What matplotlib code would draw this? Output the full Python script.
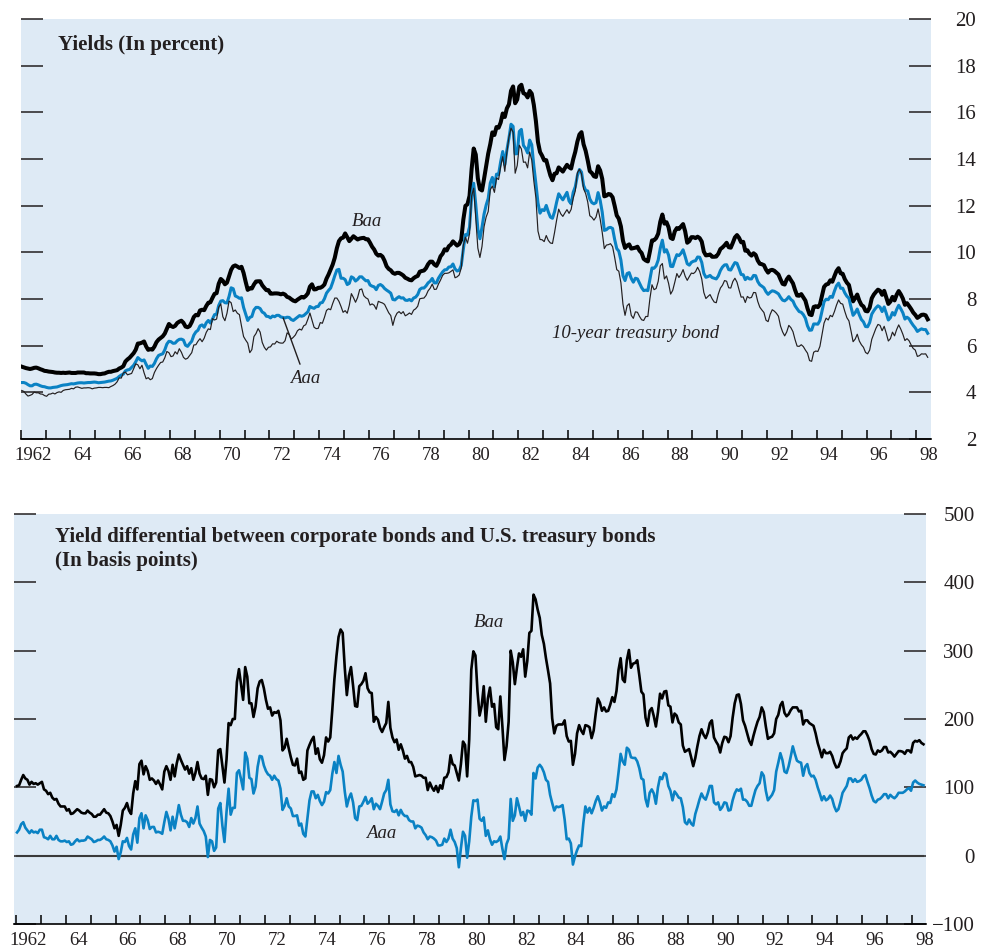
import numpy as np
import matplotlib.pyplot as plt

plt.rcParams['font.family'] = ['Liberation Serif', 'DejaVu Serif']

# monthly yields, Jan 1962 .. Jun 1998 (percent)
START_YEAR = 1962

baa = [
    5.10, 5.07, 5.04, 5.02, 5.00, 5.02, 5.05, 5.06, 5.03, 4.99, 4.96, 4.92,  # 1962
    4.91, 4.89, 4.88, 4.87, 4.85, 4.84, 4.84, 4.83, 4.84, 4.83, 4.84, 4.85,  # 1963
    4.83, 4.83, 4.83, 4.85, 4.85, 4.85, 4.85, 4.82, 4.82, 4.81, 4.81, 4.81,  # 1964
    4.80, 4.78, 4.78, 4.80, 4.81, 4.85, 4.88, 4.88, 4.91, 4.93, 4.95, 5.02,  # 1965
    5.06, 5.12, 5.32, 5.41, 5.48, 5.58, 5.68, 5.83, 6.09, 6.10, 6.13, 6.18,  # 1966
    5.97, 5.82, 5.85, 5.83, 5.96, 6.15, 6.26, 6.33, 6.40, 6.52, 6.72, 6.93,  # 1967
    6.84, 6.80, 6.85, 6.97, 7.03, 7.07, 6.98, 6.82, 6.79, 6.84, 7.01, 7.23,  # 1968
    7.32, 7.30, 7.51, 7.54, 7.52, 7.70, 7.84, 7.86, 8.05, 8.22, 8.25, 8.65,  # 1969
    8.86, 8.78, 8.63, 8.70, 8.98, 9.25, 9.40, 9.44, 9.39, 9.33, 9.38, 9.12,  # 1970
    8.74, 8.39, 8.46, 8.45, 8.62, 8.75, 8.76, 8.76, 8.59, 8.48, 8.38, 8.38,  # 1971
    8.23, 8.23, 8.24, 8.24, 8.23, 8.20, 8.23, 8.19, 8.09, 8.06, 7.99, 7.93,  # 1972
    7.90, 7.97, 8.03, 8.09, 8.06, 8.13, 8.24, 8.53, 8.63, 8.41, 8.42, 8.48,  # 1973
    8.48, 8.53, 8.62, 8.87, 9.05, 9.27, 9.48, 9.77, 10.18, 10.48, 10.60, 10.63,  # 1974
    10.81, 10.65, 10.48, 10.58, 10.69, 10.62, 10.55, 10.59, 10.61, 10.62, 10.56, 10.56,  # 1975
    10.41, 10.24, 10.12, 9.94, 9.86, 9.89, 9.82, 9.64, 9.40, 9.29, 9.23, 9.12,  # 1976
    9.08, 9.12, 9.12, 9.07, 9.01, 8.91, 8.87, 8.82, 8.80, 8.89, 8.95, 8.99,  # 1977
    9.17, 9.20, 9.22, 9.32, 9.49, 9.60, 9.60, 9.48, 9.42, 9.59, 9.83, 9.94,  # 1978
    10.13, 10.08, 10.26, 10.33, 10.47, 10.38, 10.29, 10.35, 10.54, 11.40, 11.99, 12.06,  # 1979
    12.42, 13.57, 14.45, 14.19, 13.17, 12.71, 12.65, 13.15, 13.70, 14.23, 14.64, 15.14,  # 1980
    15.03, 15.37, 15.34, 15.56, 15.95, 15.80, 16.17, 16.34, 16.92, 17.11, 16.39, 16.55,  # 1981
    17.10, 17.18, 16.82, 16.78, 16.64, 16.92, 16.80, 16.32, 15.63, 14.73, 14.30, 14.14,  # 1982
    13.94, 13.95, 13.61, 13.29, 13.09, 13.37, 13.39, 13.64, 13.55, 13.46, 13.61, 13.75,  # 1983
    13.65, 13.59, 13.99, 14.31, 14.74, 15.05, 15.15, 14.63, 14.35, 13.94, 13.48, 13.40,  # 1984
    13.26, 13.23, 13.69, 13.51, 13.15, 12.40, 12.43, 12.50, 12.48, 12.36, 11.99, 11.58,  # 1985
    11.44, 11.11, 10.50, 10.19, 10.29, 10.34, 10.16, 10.18, 10.20, 10.24, 10.07, 9.97,  # 1986
    9.72, 9.65, 9.61, 10.04, 10.51, 10.52, 10.61, 10.80, 11.31, 11.62, 11.23, 11.29,  # 1987
    11.07, 10.62, 10.57, 10.90, 11.04, 11.00, 11.11, 11.21, 10.90, 10.41, 10.48, 10.65,  # 1988
    10.65, 10.61, 10.67, 10.61, 10.46, 10.03, 9.87, 9.88, 9.91, 9.81, 9.81, 9.82,  # 1989
    9.94, 10.14, 10.21, 10.30, 10.41, 10.22, 10.20, 10.41, 10.64, 10.74, 10.62, 10.43,  # 1990
    10.45, 10.07, 10.09, 9.94, 9.86, 9.96, 9.89, 9.65, 9.51, 9.49, 9.45, 9.26,  # 1991
    9.13, 9.23, 9.25, 9.21, 9.13, 9.05, 8.84, 8.65, 8.62, 8.84, 8.96, 8.81,  # 1992
    8.67, 8.39, 8.15, 8.14, 8.21, 8.07, 7.93, 7.60, 7.34, 7.31, 7.66, 7.69,  # 1993
    7.65, 7.76, 8.13, 8.52, 8.62, 8.65, 8.80, 8.74, 8.98, 9.20, 9.32, 9.10,  # 1994
    9.08, 8.85, 8.70, 8.60, 8.20, 7.90, 8.04, 8.19, 7.93, 7.75, 7.68, 7.49,  # 1995
    7.47, 7.63, 8.03, 8.19, 8.30, 8.40, 8.35, 8.18, 8.35, 8.07, 7.79, 7.89,  # 1996
    8.09, 7.94, 8.18, 8.34, 8.20, 8.02, 7.75, 7.82, 7.70, 7.57, 7.42, 7.32,  # 1997
    7.19, 7.25, 7.32, 7.33, 7.30, 7.13,  # 1998
]

aaa = [
    4.42, 4.42, 4.39, 4.33, 4.28, 4.28, 4.34, 4.35, 4.32, 4.28, 4.25, 4.24,  # 1962
    4.21, 4.19, 4.19, 4.21, 4.22, 4.23, 4.26, 4.29, 4.31, 4.32, 4.33, 4.35,  # 1963
    4.37, 4.36, 4.38, 4.40, 4.41, 4.41, 4.40, 4.41, 4.42, 4.42, 4.43, 4.44,  # 1964
    4.43, 4.41, 4.42, 4.43, 4.44, 4.46, 4.48, 4.49, 4.52, 4.56, 4.60, 4.68,  # 1965
    4.74, 4.78, 4.92, 4.96, 4.98, 5.07, 5.16, 5.31, 5.49, 5.41, 5.35, 5.39,  # 1966
    5.20, 5.03, 5.13, 5.11, 5.24, 5.44, 5.58, 5.62, 5.65, 5.82, 6.07, 6.19,  # 1967
    6.17, 6.10, 6.11, 6.21, 6.27, 6.28, 6.24, 6.02, 5.97, 6.09, 6.19, 6.45,  # 1968
    6.59, 6.66, 6.85, 6.89, 6.79, 6.98, 7.08, 6.97, 7.14, 7.33, 7.35, 7.72,  # 1969
    7.91, 7.93, 7.84, 7.83, 8.11, 8.48, 8.44, 8.13, 8.09, 8.03, 8.05, 7.64,  # 1970
    7.36, 7.08, 7.21, 7.25, 7.53, 7.64, 7.64, 7.59, 7.44, 7.39, 7.26, 7.25,  # 1971
    7.19, 7.27, 7.24, 7.30, 7.30, 7.23, 7.21, 7.19, 7.22, 7.21, 7.12, 7.08,  # 1972
    7.15, 7.22, 7.29, 7.26, 7.29, 7.37, 7.45, 7.68, 7.63, 7.60, 7.67, 7.68,  # 1973
    7.83, 7.85, 8.01, 8.25, 8.37, 8.47, 8.72, 9.00, 9.24, 9.27, 8.89, 8.89,  # 1974
    8.83, 8.62, 8.67, 8.95, 8.90, 8.77, 8.84, 8.95, 8.95, 8.86, 8.78, 8.79,  # 1975
    8.60, 8.55, 8.52, 8.40, 8.58, 8.62, 8.56, 8.45, 8.38, 8.32, 8.25, 7.98,  # 1976
    7.96, 8.04, 8.10, 8.04, 8.05, 7.95, 7.94, 7.98, 7.92, 8.04, 8.08, 8.19,  # 1977
    8.41, 8.47, 8.47, 8.56, 8.69, 8.76, 8.88, 8.69, 8.69, 8.89, 9.03, 9.16,  # 1978
    9.25, 9.26, 9.37, 9.38, 9.50, 9.29, 9.20, 9.23, 9.44, 10.13, 10.76, 10.74,  # 1979
    11.09, 12.38, 12.96, 12.04, 10.99, 10.58, 11.07, 11.64, 12.02, 12.31, 12.97, 13.21,  # 1980
    12.81, 13.35, 13.33, 13.88, 14.32, 13.75, 14.38, 14.89, 15.49, 15.40, 14.22, 14.23,  # 1981
    15.18, 15.27, 14.58, 14.46, 14.26, 14.81, 14.61, 13.71, 12.94, 12.12, 11.68, 11.83,  # 1982
    11.79, 12.01, 11.73, 11.51, 11.46, 11.74, 12.15, 12.51, 12.37, 12.25, 12.41, 12.57,  # 1983
    12.20, 12.08, 12.57, 12.81, 13.28, 13.55, 13.44, 12.87, 12.66, 12.63, 12.29, 12.13,  # 1984
    12.08, 12.13, 12.56, 12.23, 11.72, 10.94, 10.97, 11.05, 11.07, 11.02, 10.55, 10.16,  # 1985
    10.05, 9.67, 9.00, 8.79, 9.09, 9.13, 8.88, 8.72, 8.89, 8.86, 8.68, 8.49,  # 1986
    8.36, 8.38, 8.36, 8.85, 9.33, 9.32, 9.42, 9.67, 10.18, 10.52, 10.01, 10.11,  # 1987
    9.88, 9.40, 9.39, 9.67, 9.90, 9.86, 9.96, 10.11, 9.82, 9.51, 9.45, 9.57,  # 1988
    9.62, 9.64, 9.80, 9.79, 9.57, 9.10, 8.93, 8.96, 9.01, 8.92, 8.89, 8.86,  # 1989
    8.99, 9.22, 9.37, 9.46, 9.47, 9.26, 9.24, 9.41, 9.56, 9.53, 9.30, 9.05,  # 1990
    9.04, 8.83, 8.93, 8.86, 8.86, 9.01, 9.00, 8.75, 8.61, 8.55, 8.48, 8.31,  # 1991
    8.20, 8.29, 8.35, 8.33, 8.28, 8.22, 8.07, 7.95, 7.92, 7.99, 8.10, 7.98,  # 1992
    7.91, 7.71, 7.58, 7.46, 7.43, 7.33, 7.17, 6.85, 6.66, 6.67, 6.93, 6.93,  # 1993
    6.92, 7.08, 7.48, 7.88, 7.99, 7.97, 8.11, 8.07, 8.34, 8.57, 8.68, 8.46,  # 1994
    8.46, 8.26, 8.12, 8.03, 7.65, 7.30, 7.41, 7.57, 7.32, 7.12, 7.02, 6.82,  # 1995
    6.81, 6.99, 7.35, 7.50, 7.62, 7.71, 7.65, 7.46, 7.66, 7.39, 7.10, 7.20,  # 1996
    7.42, 7.31, 7.55, 7.73, 7.58, 7.41, 7.14, 7.22, 7.15, 7.00, 6.87, 6.76,  # 1997
    6.61, 6.67, 6.72, 6.69, 6.69, 6.53,  # 1998
]

tsy10 = [
    4.08, 4.04, 3.93, 3.84, 3.87, 3.91, 4.01, 3.98, 3.98, 3.93, 3.92, 3.86,  # 1962
    3.83, 3.92, 3.93, 3.97, 3.93, 3.99, 4.02, 4.00, 4.08, 4.11, 4.12, 4.13,  # 1963
    4.17, 4.15, 4.22, 4.23, 4.20, 4.17, 4.19, 4.19, 4.20, 4.19, 4.15, 4.18,  # 1964
    4.19, 4.21, 4.21, 4.20, 4.21, 4.21, 4.20, 4.25, 4.29, 4.35, 4.45, 4.62,  # 1965
    4.61, 4.83, 4.87, 4.75, 4.78, 4.81, 5.02, 5.22, 5.18, 5.01, 5.16, 4.84,  # 1966
    4.58, 4.63, 4.54, 4.59, 4.85, 5.02, 5.16, 5.28, 5.30, 5.48, 5.75, 5.70,  # 1967
    5.53, 5.56, 5.74, 5.64, 5.87, 5.72, 5.50, 5.42, 5.46, 5.58, 5.70, 6.03,  # 1968
    6.04, 6.19, 6.30, 6.17, 6.32, 6.57, 6.72, 6.69, 7.16, 7.10, 7.14, 7.65,  # 1969
    7.79, 7.24, 7.07, 7.39, 7.91, 7.84, 7.46, 7.53, 7.39, 7.33, 6.84, 6.39,  # 1970
    6.24, 6.11, 5.70, 5.83, 6.39, 6.52, 6.73, 6.58, 6.14, 5.93, 5.81, 5.93,  # 1971
    5.95, 6.08, 6.07, 6.19, 6.13, 6.11, 6.11, 6.21, 6.55, 6.48, 6.28, 6.36,  # 1972
    6.46, 6.64, 6.71, 6.67, 6.85, 6.90, 7.13, 7.40, 7.09, 6.79, 6.73, 6.74,  # 1973
    6.99, 6.96, 7.21, 7.51, 7.58, 7.54, 7.81, 8.04, 8.04, 7.90, 7.68, 7.43,  # 1974
    7.50, 7.39, 7.73, 8.23, 8.06, 7.86, 8.06, 8.40, 8.43, 8.14, 8.05, 8.00,  # 1975
    7.74, 7.79, 7.73, 7.56, 7.90, 7.86, 7.83, 7.77, 7.59, 7.41, 7.29, 6.87,  # 1976
    7.21, 7.39, 7.46, 7.37, 7.46, 7.28, 7.33, 7.40, 7.34, 7.52, 7.58, 7.69,  # 1977
    8.01, 8.03, 8.04, 8.15, 8.35, 8.46, 8.64, 8.41, 8.42, 8.64, 8.81, 9.01,  # 1978
    9.10, 9.10, 9.12, 9.18, 9.25, 8.91, 8.95, 9.03, 9.33, 10.30, 10.65, 10.39,  # 1979
    10.80, 12.41, 12.75, 11.47, 10.18, 9.78, 10.25, 11.10, 11.51, 11.75, 12.68, 12.84,  # 1980
    12.57, 13.19, 13.12, 13.68, 14.10, 13.47, 14.28, 14.94, 15.32, 15.15, 13.39, 13.72,  # 1981
    14.59, 14.43, 13.86, 13.87, 13.62, 14.30, 13.95, 13.06, 12.34, 10.91, 10.55, 10.54,  # 1982
    10.46, 10.72, 10.51, 10.40, 10.38, 10.85, 11.38, 11.85, 11.65, 11.54, 11.69, 11.83,  # 1983
    11.67, 11.84, 12.32, 12.63, 13.41, 13.56, 13.36, 12.72, 12.52, 12.16, 11.57, 11.50,  # 1984
    11.38, 11.51, 11.86, 11.43, 10.85, 10.16, 10.31, 10.33, 10.37, 10.24, 9.78, 9.26,  # 1985
    9.19, 8.70, 7.78, 7.30, 7.71, 7.80, 7.30, 7.17, 7.45, 7.43, 7.25, 7.11,  # 1986
    7.08, 7.25, 7.25, 8.02, 8.61, 8.40, 8.45, 8.76, 9.42, 9.52, 8.86, 8.99,  # 1987
    8.67, 8.21, 8.37, 8.72, 9.09, 8.92, 9.06, 9.26, 8.98, 8.80, 8.96, 9.11,  # 1988
    9.09, 9.17, 9.36, 9.18, 8.86, 8.28, 8.02, 8.11, 8.19, 8.01, 7.87, 7.84,  # 1989
    8.21, 8.47, 8.59, 8.79, 8.76, 8.48, 8.47, 8.75, 8.89, 8.72, 8.39, 8.08,  # 1990
    8.09, 7.85, 8.11, 8.04, 8.07, 8.28, 8.27, 7.90, 7.65, 7.53, 7.42, 7.09,  # 1991
    7.03, 7.34, 7.54, 7.48, 7.39, 7.26, 6.84, 6.59, 6.42, 6.59, 6.87, 6.77,  # 1992
    6.60, 6.26, 5.98, 5.97, 6.04, 5.96, 5.81, 5.68, 5.36, 5.33, 5.72, 5.77,  # 1993
    5.75, 5.97, 6.48, 6.97, 7.18, 7.10, 7.30, 7.24, 7.46, 7.74, 7.96, 7.81,  # 1994
    7.78, 7.47, 7.20, 7.06, 6.63, 6.17, 6.28, 6.49, 6.20, 6.04, 5.93, 5.71,  # 1995
    5.65, 5.81, 6.27, 6.51, 6.74, 6.91, 6.87, 6.64, 6.83, 6.53, 6.20, 6.30,  # 1996
    6.58, 6.42, 6.69, 6.89, 6.71, 6.49, 6.22, 6.30, 6.21, 6.03, 5.88, 5.81,  # 1997
    5.54, 5.57, 5.65, 5.64, 5.65, 5.50,  # 1998
]

year_ticks = list(range(1962, 1999))
year_labels = ['1962'] + [str(y)[2:] for y in range(1964, 1999, 2)]
yield_ticks = list(range(2, 21, 2))
spread_ticks = list(range(-100, 501, 100))

BG = '#deeaf5'
BLUE = '#0a82c4'
INK = '#231f20'


def style_axes(ax, xlim, ylim, yticks, ypad):
    ax.set_facecolor(BG)
    ax.set_xlim(*xlim)
    ax.set_ylim(*ylim)
    for s in ['top', 'left', 'right']:
        ax.spines[s].set_visible(False)
    ax.spines['bottom'].set_linewidth(1.2)
    ax.spines['bottom'].set_color('black')

    ax.set_yticks(yticks)
    ax.tick_params(axis='y', left=True, right=True, labelleft=False, labelright=True,
                   direction='in', length=16, width=1.1, color=INK, pad=ypad,
                   labelsize=15, labelcolor=INK)
    for lab in ax.get_yticklabels():
        lab.set_horizontalalignment('right')

    # ticks at each year start, labels centred mid-year
    ax.set_xticks(year_ticks)
    ax.set_xticklabels([])
    ax.tick_params(axis='x', which='major', direction='in', length=6.5, width=1.1, color='black')
    ax.set_xticks([y + 0.5 for y in range(1962, 1999, 2)], minor=True)
    ax.set_xticklabels(year_labels, minor=True)
    ax.tick_params(axis='x', which='minor', length=0, pad=6, labelsize=13.5, labelcolor=INK)


t = START_YEAR + (np.arange(len(baa)) + 0.5) / 12.0
baa_a = np.array(baa)
aaa_a = np.array(aaa)
tsy_a = np.array(tsy10)
baa_spread = (baa_a - tsy_a) * 100
aaa_spread = (aaa_a - tsy_a) * 100

fig = plt.figure(figsize=(9.81, 9.5), dpi=100)

# top panel: yields
ax1 = fig.add_axes([20.7 / 981, 511 / 950, 910.3 / 981, 420 / 950])
style_axes(ax1, (1962, 1998.59), (2, 20), yield_ticks, 32.5)
ax1.plot(t, baa_a, color='black', lw=2.9, solid_joinstyle='round', zorder=3)
ax1.plot(t, aaa_a, color=BLUE, lw=2.2, solid_joinstyle='round', zorder=3)
ax1.plot(t, tsy_a, color=INK, lw=0.85, zorder=4)

ax1.text(0.041, 0.938, 'Yields (In percent)', transform=ax1.transAxes,
         fontsize=15, fontweight='bold', color=INK, va='center', ha='left')
ax1.text(1975.9, 11.3, 'Baa', fontsize=13.5, style='italic', color=INK, ha='center', va='center')
ax1.annotate('Aaa', xy=(1972.55, 7.19), xytext=(1973.43, 4.61), fontsize=13.5, style='italic',
             color=INK, ha='center', va='center',
             arrowprops=dict(arrowstyle='-', color=INK, lw=1.0, shrinkA=2, shrinkB=0))
ax1.text(1986.73, 6.54, '10-year treasury bond', fontsize=13.5, style='italic', color=INK,
         ha='center', va='center')

# bottom panel: spreads
ax2 = fig.add_axes([14 / 981, 26 / 950, 912 / 981, 410 / 950])
style_axes(ax2, (1961.92, 1998.56), (-100, 500), spread_ticks, 35)
ax2.axhline(0, xmin=0.003, xmax=0.997, color='#3a3a3a', lw=1.5, zorder=2)
ax2.plot(t, baa_spread, color='black', lw=1.9, solid_joinstyle='round', zorder=3)
ax2.plot(t, aaa_spread, color=BLUE, lw=1.9, solid_joinstyle='round', zorder=3)

ax2.text(0.045, 0.968, 'Yield differential between corporate bonds and U.S. treasury bonds\n(In basis points)',
         transform=ax2.transAxes, fontsize=15, fontweight='bold', color=INK,
         va='top', ha='left', linespacing=1.25)
ax2.text(1981.0, 341, 'Baa', fontsize=13.5, style='italic', color=INK, ha='center', va='center')
ax2.text(1976.66, 33, 'Aaa', fontsize=13.5, style='italic', color=INK, ha='center', va='center')

fig.savefig('out.png', dpi=100)
